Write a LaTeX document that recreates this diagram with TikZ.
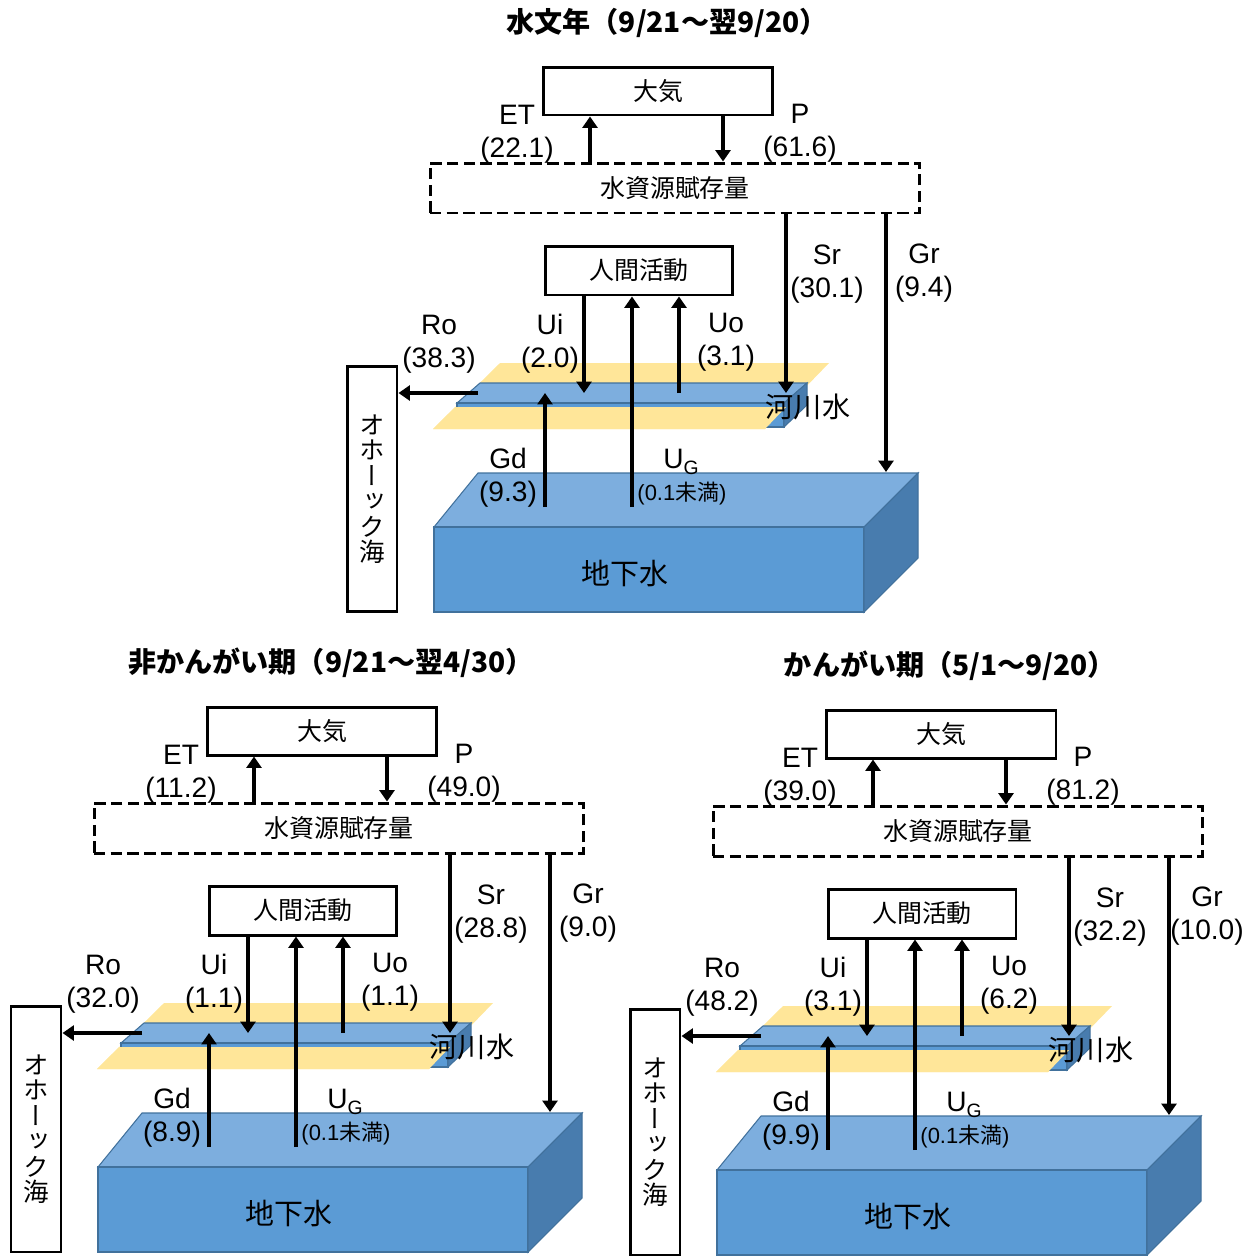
\documentclass[tikz,border=0pt]{standalone}
\usepackage{fontspec}
\setmainfont{Liberation Sans}
\newfontfamily\jp{Noto Sans CJK JP}
\newfontfamily\jpv{Noto Sans CJK JP}[RawFeature=+vert]
\usetikzlibrary{arrows.meta}

\definecolor{gwfront}{RGB}{91,155,213}
\definecolor{gwtop}{RGB}{125,174,222}
\definecolor{gwside}{RGB}{72,124,174}
\definecolor{gwedge}{RGB}{65,113,156}
\definecolor{bank}{RGB}{255,230,153}

\tikzset{
  box/.style={draw, line width=1.7pt, fill=white, inner sep=0pt,
    font=\jp\fontsize{14.2}{16}\selectfont},
  flow/.style={line width=2.4pt, -{Triangle[width=8.5pt,length=6.5pt]}},
  num/.style={align=center, inner sep=0pt, font=\fontsize{16}{18.7}\selectfont},
  face/.style={draw=gwedge, line width=0.6pt},
}

% one water budget: title, ET, P, Sr, Gr, Ro, Ui, Uo, Gd
\newcommand\budget[9]{%
  % groundwater block
  \filldraw[face, fill=gwtop] (434,527) -- (478,473) -- (918,473) -- (864,527) -- cycle;
  \filldraw[face, fill=gwfront] (434,527) rectangle (864,612);
  \filldraw[face, fill=gwside] (864,527) -- (918,473) -- (918,558) -- (864,612) -- cycle;
  % river with its banks
  \fill[bank] (500,363) -- (829,363) -- (765,429) -- (433,429) -- cycle;
  \filldraw[face, fill=gwtop] (480,383) -- (807,383) -- (784,403) -- (457,403) -- cycle;
  \filldraw[face, fill=gwfront] (457,403) rectangle (784,427);
  \filldraw[face, fill=gwside] (784,403) -- (807,383) -- (807,405) -- (784,427) -- cycle;
  \fill[bank] (455,407) -- (786,407) -- (765,429) -- (433,429) -- cycle;
  \node[font=\jp\fontsize{16.5}{18}\selectfont] (gwname) at (625,573) {地下水};
  \node[font=\jp\fontsize{16}{18}\selectfont] (rvname) at (808,407) {河川水};
  % title and boxes
  \node[font=\jp\bfseries\fontsize{16}{18}\selectfont] (title) at (667,23) {#1};
  \node[box, minimum width=4.6cm, minimum height=0.96cm] (atm) at (658,91) {大気};
  \node[box, fill=none, dash pattern=on 6.5pt off 3pt, minimum width=9.8cm,
    minimum height=1cm] (store) at (675,188) {水資源賦存量};
  \node[box, minimum width=3.76cm, minimum height=0.98cm] (hum) at (639,270.5) {人間活動};
  \node[box, align=center, minimum width=1cm, minimum height=4.92cm,
    font=\jpv\fontsize{14.5}{14.5}\selectfont] (sea) at (372,489)
    {オ\\ホ\\ー\\ッ\\ク\\海};
  % where the flows run
  \coordinate (et) at (590,0);
  \coordinate (pr) at (723,0);
  \coordinate (sr) at (786,0);
  \coordinate (gr) at (886,0);
  \coordinate (gd) at (545,0);
  \coordinate (ug) at (632,0);
  \coordinate (ui) at (584,0);
  \coordinate (uo) at (679,0);
  \coordinate (rv) at (0,393);
  \coordinate (gw) at (0,507);
  \coordinate (gwt) at (0,472);
  \coordinate (out) at (478,393);
  \draw[flow] (et |- store.north) -- (et |- atm.south);
  \draw[flow] (pr |- atm.south) -- (pr |- store.north);
  \draw[flow] (sr |- store.south) -- (sr |- rv);
  \draw[flow] (gr |- store.south) -- (gr |- gwt);
  \draw[flow] (gd |- gw) -- (gd |- rv);
  \draw[flow] (ug |- gw) -- (ug |- hum.south);
  \draw[flow] (ui |- hum.south) -- (ui |- rv);
  \draw[flow] (uo |- rv) -- (uo |- hum.south);
  \draw[flow] (out) -- (out -| sea.east);
  % flow labels
  \node[num] (etl) at (517,134) {ET\\(#2)};
  \node[num] (pl) at (800,133) {P\\(#3)};
  \node[num] (srl) at (827,274) {Sr\\(#4)};
  \node[num] (grl) at (924,273) {Gr\\(#5)};
  \node[num] (rol) at (439,344) {Ro\\(#6)};
  \node[num] (uil) at (550,344) {Ui\\(#7)};
  \node[num] (uol) at (726,342) {Uo\\(#8)};
  \node[num] (gdl) at (508,478) {Gd\\(#9)};
  \node[num] (ugl) at (681,462) {U\raisebox{-0.35ex}{\fontsize{11}{11}\selectfont G}};
  \node[inner sep=0pt, font=\fontsize{12.5}{14}\selectfont] (ugv) at (682,494) {(0.1{\jp 未満})};
}

\begin{document}
\begin{tikzpicture}[x=0.02cm, y=-0.02cm]
\useasboundingbox (0,0) rectangle (1260,1255);
\budget{水文年（9/21～翌9/20）}{22.1}{61.6}{30.1}{9.4}{38.3}{2.0}{3.1}{9.3}
\begin{scope}[shift={(-336,640)}]
\budget{非かんがい期（9/21～翌4/30）}{11.2}{49.0}{28.8}{9.0}{32.0}{1.1}{1.1}{8.9}
\end{scope}
\begin{scope}[shift={(283,643)}]
\budget{かんがい期（5/1～9/20）}{39.0}{81.2}{32.2}{10.0}{48.2}{3.1}{6.2}{9.9}
\end{scope}
\end{tikzpicture}
\end{document}
